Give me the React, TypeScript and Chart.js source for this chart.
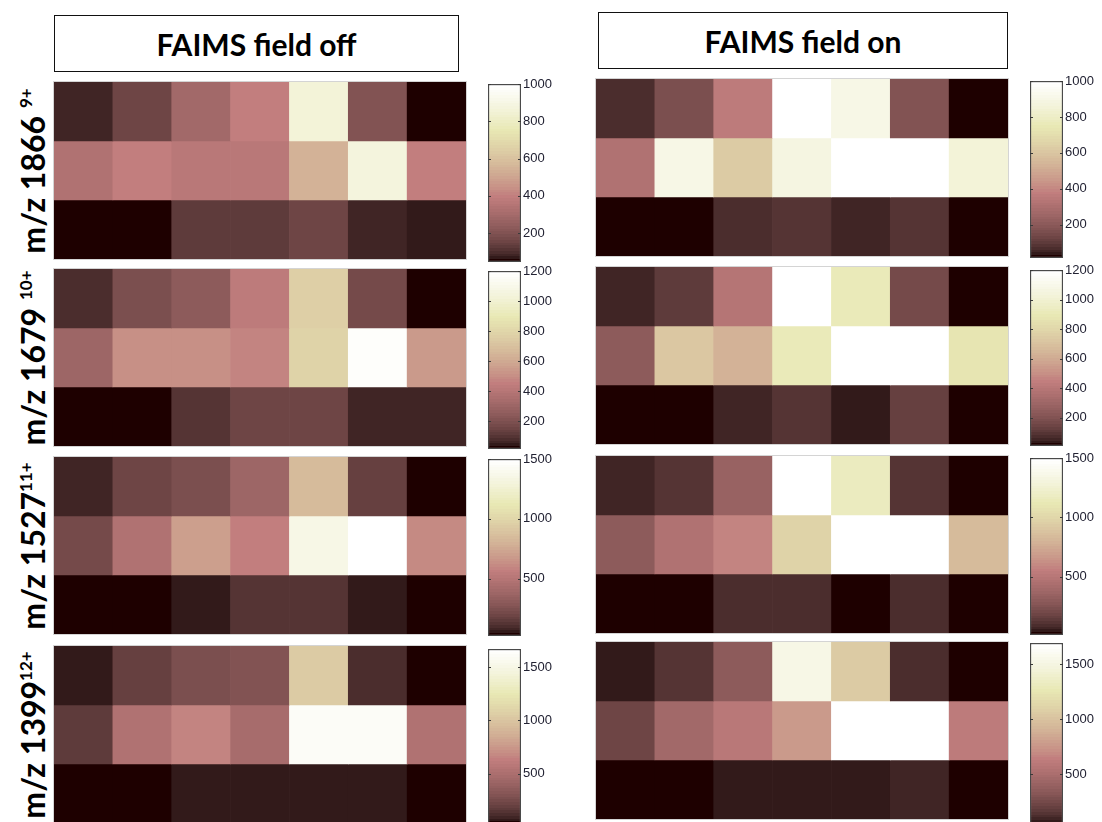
import React, { useEffect, useRef } from "react";
import { Chart, registerables } from "chart.js";

Chart.register(...registerables);

// ---------------- data ----------------
const columnLabels = ["1", "2", "3", "4", "5", "6", "7"];
const rowNames = ["top", "middle", "bottom"];
const conditionTitles = ["FAIMS field off", "FAIMS field on"];
const ionNames = ["m/z 1866", "m/z 1679", "m/z 1527", "m/z 1399"];
const ionCharges = ["9+", "10+", "11+", "12+"];
const chargeSpacing = [" ", " ", "", ""];

// FAIMS field off (rows top -> bottom)
const off1866 = [
  [85, 160, 285, 390, 860, 200, 45],
  [330, 400, 360, 360, 550, 880, 390],
  [45, 45, 120, 120, 150, 85, 65],
];
const off1679 = [
  [75, 195, 250, 440, 760, 180, 15],
  [300, 510, 510, 475, 785, 1180, 535],
  [15, 15, 100, 145, 145, 55, 55],
];
const off1527 = [
  [80, 200, 240, 375, 835, 170, 20],
  [225, 480, 700, 555, 1350, 1500, 610],
  [20, 20, 50, 125, 125, 50, 20],
];
const off1399 = [
  [65, 195, 275, 290, 1045, 110, 30],
  [160, 540, 655, 490, 1600, 1600, 540],
  [30, 30, 65, 80, 80, 65, 30],
];

// FAIMS field on (rows top -> bottom)
const on1866 = [
  [70, 160, 365, 1000, 900, 170, 15],
  [315, 900, 630, 880, 1000, 1000, 850],
  [15, 15, 70, 90, 50, 90, 15],
];
const on1679 = [
  [50, 105, 400, 1200, 915, 175, 10],
  [250, 725, 630, 905, 1200, 1200, 880],
  [10, 10, 60, 95, 30, 130, 10],
];
const on1527 = [
  [70, 105, 355, 1500, 1170, 105, 10],
  [295, 470, 575, 965, 1500, 1500, 830],
  [10, 10, 85, 85, 10, 85, 10],
];
const on1399 = [
  [65, 140, 360, 1525, 1060, 115, 30],
  [230, 445, 595, 775, 1690, 1690, 610],
  [30, 30, 65, 65, 65, 95, 30],
];

const offPanels = [off1866, off1679, off1527, off1399];
const onPanels = [on1866, on1679, on1527, on1399];

// colour limits [min, max] per panel
const offLimits = [
  [45, 1000],
  [15, 1200],
  [20, 1500],
  [30, 1670],
];
const onLimits = [
  [15, 1000],
  [10, 1200],
  [10, 1500],
  [30, 1690],
];

const colorbarTicks = [
  [200, 400, 600, 800, 1000],
  [200, 400, 600, 800, 1000, 1200],
  [500, 1000, 1500],
  [500, 1000, 1500],
];

// ---------------- colormap (MATLAB "pink", 64 levels) ----------------
function makePink(m: number): string[] {
  const n = Math.floor((3 / 8) * m);
  const out: string[] = [];
  for (let i = 0; i < m; i++) {
    const g = i / (m - 1);
    const hr = i < n ? (i + 1) / n : 1;
    const hg = i < n ? 0 : i < 2 * n ? (i - n + 1) / n : 1;
    const hb = i < 2 * n ? 0 : (i - 2 * n + 1) / (m - 2 * n);
    const r = Math.sqrt((2 * g + hr) / 3);
    const gg = Math.sqrt((2 * g + hg) / 3);
    const b = Math.sqrt((2 * g + hb) / 3);
    out.push(`rgb(${Math.round(r * 255)},${Math.round(gg * 255)},${Math.round(b * 255)})`);
  }
  return out;
}
const PINK = makePink(64);

function colorFor(v: number, cmin: number, cmax: number): string {
  const t = (v - cmin) / (cmax - cmin);
  const idx = Math.max(0, Math.min(PINK.length - 1, Math.floor(t * PINK.length)));
  return PINK[idx];
}

// ---------------- layout ----------------
const LEFT_HEAT_X = 54;
const RIGHT_HEAT_X = 596;
const HEAT_W = 412;
const LEFT_HEAT_Y = [82, 269, 457, 646];
const RIGHT_HEAT_Y = [79, 267, 456, 642];
const HEAT_H = 177;

const LEFT_CB_X = 488;
const RIGHT_CB_X = 1030;
const CB_W = 33;
const LEFT_CB_Y: [number, number][] = [
  [84, 262],
  [271, 449],
  [459, 636],
  [649, 824],
];
const RIGHT_CB_Y: [number, number][] = [
  [81, 258],
  [270, 446],
  [458, 635],
  [643, 826],
];

// ---------------- components ----------------
function Heatmap(props: { values: number[][]; limits: number[]; x: number; y: number; w: number; h: number }) {
  const ref = useRef<HTMLCanvasElement>(null);
  useEffect(() => {
    const [cmin, cmax] = props.limits;
    const datasets = props.values.map((row, r) => {
      const level = props.values.length - 1 - r;
      return {
        label: rowNames[r],
        data: row.map((v, c) => ({ x: columnLabels[c], y: [level, level + 1], v })),
        backgroundColor: row.map((v) => colorFor(v, cmin, cmax)),
        borderWidth: 0,
        barPercentage: 1,
        categoryPercentage: 1,
        grouped: false,
      };
    });
    const chart = new Chart(ref.current!, {
      type: "bar",
      data: { labels: columnLabels, datasets: datasets as any },
      options: {
        animation: false,
        responsive: true,
        maintainAspectRatio: false,
        layout: { padding: 0 },
        plugins: { legend: { display: false }, tooltip: { enabled: false } },
        scales: {
          x: { display: false },
          y: { display: false, min: 0, max: 3 },
        },
      },
    });
    return () => chart.destroy();
  }, []);
  return (
    <div
      style={{
        position: "absolute",
        left: props.x,
        top: props.y,
        width: props.w,
        height: props.h,
        boxShadow: "0 0 0 1px #d4d4d4",
      }}
    >
      <canvas ref={ref} />
    </div>
  );
}

const PAD = 12;
const LABEL_W = 46;

function Colorbar(props: { limits: number[]; ticks: number[]; x: number; y0: number; y1: number }) {
  const ref = useRef<HTMLCanvasElement>(null);
  useEffect(() => {
    const [cmin, cmax] = props.limits;
    const tickMarks = {
      id: "tickMarks",
      afterDatasetsDraw(chart: any) {
        const { ctx, chartArea } = chart;
        const ys = chart.scales.y;
        ctx.save();
        ctx.strokeStyle = "#3a3a3a";
        ctx.lineWidth = 1;
        props.ticks.forEach((t) => {
          const py = Math.round(ys.getPixelForValue(t)) + 0.5;
          ctx.beginPath();
          ctx.moveTo(chartArea.left, py);
          ctx.lineTo(chartArea.left + 3, py);
          ctx.moveTo(chartArea.right - 3, py);
          ctx.lineTo(chartArea.right, py);
          ctx.stroke();
        });
        ctx.restore();
      },
    };
    const chart = new Chart(ref.current!, {
      type: "bar",
      data: {
        labels: ["scale"],
        datasets: [
          {
            data: [[cmin, cmax]] as any,
            backgroundColor: (c: any) => {
              const ch = c.chart;
              if (!ch.chartArea) return "#888";
              const ys = ch.scales.y;
              const g = ch.ctx.createLinearGradient(0, ys.getPixelForValue(cmin), 0, ys.getPixelForValue(cmax));
              PINK.forEach((col, i) => {
                g.addColorStop(i / PINK.length, col);
                g.addColorStop((i + 1) / PINK.length, col);
              });
              return g;
            },
            borderColor: "#4a4a4a",
            borderWidth: 1.5,
            borderSkipped: false,
            barPercentage: 1,
            categoryPercentage: 1,
          },
        ],
      },
      options: {
        animation: false,
        responsive: true,
        maintainAspectRatio: false,
        layout: { padding: { top: PAD, bottom: PAD, left: 1, right: 0 } },
        plugins: { legend: { display: false }, tooltip: { enabled: false } },
        scales: {
          x: { display: false },
          y: {
            position: "right",
            min: cmin,
            max: cmax,
            grid: { display: false, drawTicks: false },
            border: { display: false },
            ticks: {
              padding: 2,
              autoSkip: false,
              color: "#222233",
              font: { family: "'Liberation Sans', Arial, sans-serif", size: 13 },
              callback: (v: any) => String(v),
            },
            afterBuildTicks: (s: any) => {
              s.ticks = props.ticks.map((v) => ({ value: v }));
            },
            afterFit: (s: any) => {
              s.width = LABEL_W;
            },
          },
        },
      },
      plugins: [tickMarks],
    });
    return () => chart.destroy();
  }, []);
  const h = props.y1 - props.y0;
  return (
    <div
      style={{
        position: "absolute",
        left: props.x - 1,
        top: props.y0 - PAD,
        width: CB_W + 1 + LABEL_W,
        height: h + 2 * PAD,
      }}
    >
      <canvas ref={ref} />
    </div>
  );
}

function TitleBox(props: { text: string; x: number; y: number; w: number; h: number }) {
  return (
    <div
      style={{
        position: "absolute",
        left: props.x,
        top: props.y,
        width: props.w,
        height: props.h,
        boxSizing: "border-box",
        border: "1.5px solid #111",
        display: "flex",
        alignItems: "center",
        justifyContent: "center",
        fontFamily: "Lato, 'Open Sans', sans-serif",
        fontWeight: 700,
        fontSize: 30,
        color: "#000",
        background: "#fff",
      }}
    >
      {props.text}
    </div>
  );
}

function RowLabel(props: { name: string; charge: string; gap: string; cx: number; cy: number }) {
  return (
    <div
      style={{
        position: "absolute",
        left: props.cx,
        top: props.cy,
        transform: "translate(-50%, -50%) rotate(-90deg)",
        whiteSpace: "pre",
        fontFamily: "Lato, 'Open Sans', sans-serif",
        fontWeight: 700,
        fontSize: 32,
        lineHeight: "34px",
        color: "#000",
      }}
    >
      {props.name}
      {props.gap}
      <sup style={{ fontSize: 17, verticalAlign: "0.75em", lineHeight: 0 }}>{props.charge}</sup>
    </div>
  );
}

export default function App() {
  return (
    <div
      style={{
        position: "fixed",
        left: 0,
        top: 0,
        width: 1102,
        height: 822,
        background: "#fff",
        overflow: "hidden",
      }}
    >
      <TitleBox text={conditionTitles[0]} x={54} y={15} w={405} h={57} />
      <TitleBox text={conditionTitles[1]} x={598} y={12} w={410} h={57} />
      {ionNames.map((name, i) => (
        <RowLabel
          key={"lab" + i}
          name={name}
          charge={ionCharges[i]}
          gap={chargeSpacing[i]}
          cx={33}
          cy={LEFT_HEAT_Y[i] + HEAT_H / 2}
        />
      ))}
      {offPanels.map((vals, i) => (
        <Heatmap key={"off" + i} values={vals} limits={offLimits[i]} x={LEFT_HEAT_X} y={LEFT_HEAT_Y[i]} w={HEAT_W} h={HEAT_H} />
      ))}
      {onPanels.map((vals, i) => (
        <Heatmap key={"on" + i} values={vals} limits={onLimits[i]} x={RIGHT_HEAT_X} y={RIGHT_HEAT_Y[i]} w={HEAT_W} h={HEAT_H} />
      ))}
      {offLimits.map((lim, i) => (
        <Colorbar key={"cboff" + i} limits={lim} ticks={colorbarTicks[i]} x={LEFT_CB_X} y0={LEFT_CB_Y[i][0]} y1={LEFT_CB_Y[i][1]} />
      ))}
      {onLimits.map((lim, i) => (
        <Colorbar key={"cbon" + i} limits={lim} ticks={colorbarTicks[i]} x={RIGHT_CB_X} y0={RIGHT_CB_Y[i][0]} y1={RIGHT_CB_Y[i][1]} />
      ))}
    </div>
  );
}
